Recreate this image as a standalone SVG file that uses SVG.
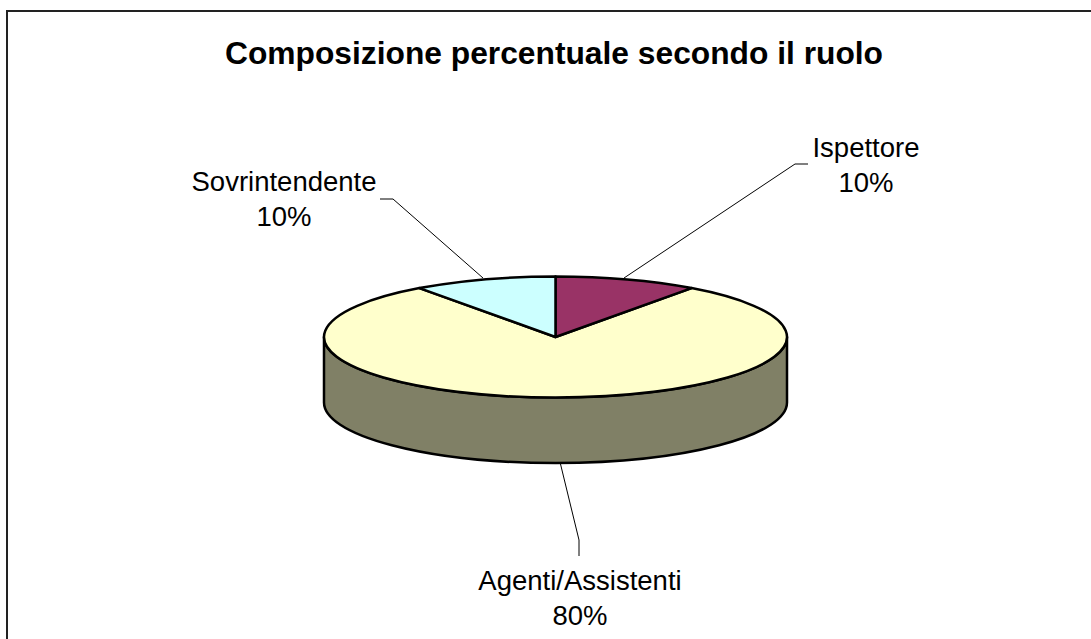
<svg xmlns="http://www.w3.org/2000/svg" width="1091" height="639" viewBox="0 0 1091 639">
<style>
.lbl{font-family:"Liberation Sans",Arial,sans-serif;font-size:27.5px;fill:#000;text-anchor:middle}
.title{font-family:"Liberation Sans",Arial,sans-serif;font-size:31.5px;font-weight:bold;fill:#000;text-anchor:middle}
.pie{stroke:#000;stroke-width:2.5;stroke-linejoin:round}
.lead{fill:none;stroke:#000;stroke-width:1}
</style>
<rect x="0" y="0" width="1091" height="639" fill="#fff"/>
<rect x="7" y="11" width="1100" height="700" fill="none" stroke="#222" stroke-width="2"/>
<text class="title" x="554" y="64" textLength="658" lengthAdjust="spacingAndGlyphs">Composizione percentuale secondo il ruolo</text>
<g id="pie">
<path id="side" class="pie" fill="#808066" d="M324,337 L324,402.5 A231.5,60.5 0 0 0 787,402.5 L787,337 A231.5,60.5 0 0 1 324,337 Z"/>
<path id="agenti" class="pie" fill="#FFFFCC" d="M555.5,337 L691.6,288.1 A231.5,60.5 0 1 1 419.4,288.1 Z"/>
<path id="ispettore" class="pie" fill="#993366" d="M555.5,337 L555.5,276.5 A231.5,60.5 0 0 1 691.6,288.1 Z"/>
<path id="sovrintendente" class="pie" fill="#CCFFFF" d="M555.5,337 L419.4,288.1 A231.5,60.5 0 0 1 555.5,276.5 Z"/>
</g>
<g id="connectors">
<polyline class="lead" points="380,199 393,199 483,278"/>
<polyline class="lead" points="808,164 795,164 624,278"/>
<polyline class="lead" points="560,462 579,540 579,556"/>
</g>
<g id="label-sovrintendente">
<text class="lbl" x="284" y="191">Sovrintendente</text>
<text class="lbl" x="284" y="226">10%</text>
</g>
<g id="label-ispettore">
<text class="lbl" x="866" y="157">Ispettore</text>
<text class="lbl" x="866" y="192">10%</text>
</g>
<g id="label-agenti">
<text class="lbl" x="580" y="590">Agenti/Assistenti</text>
<text class="lbl" x="580" y="625">80%</text>
</g>
</svg>
